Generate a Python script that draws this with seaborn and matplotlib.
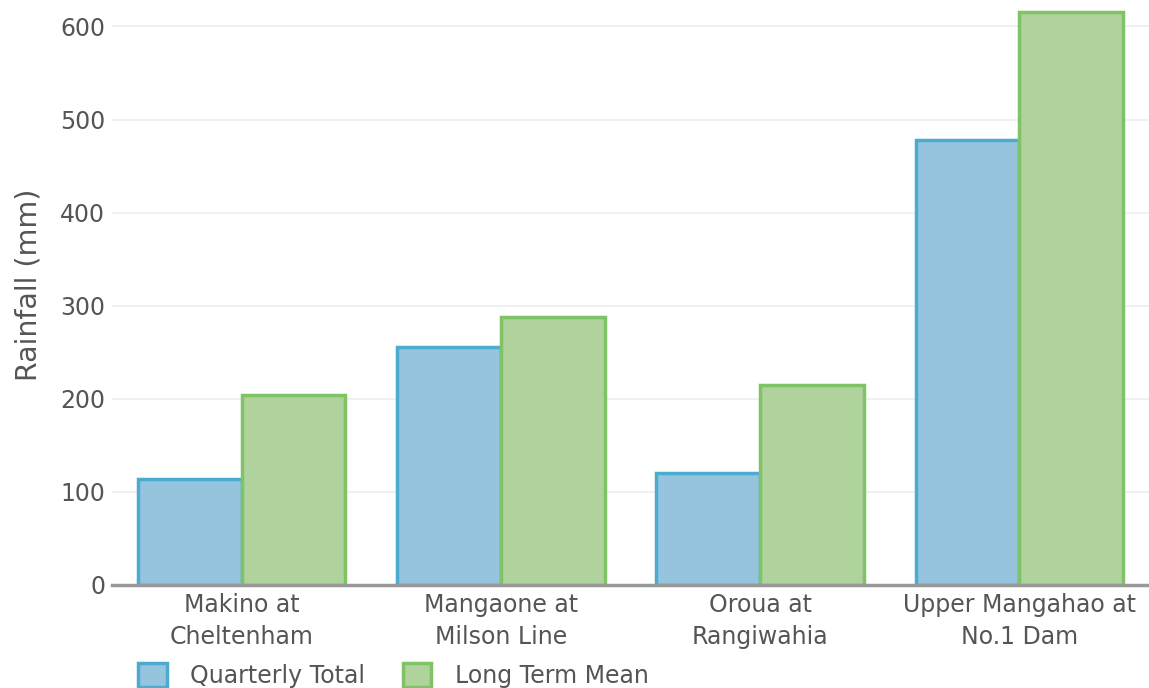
import matplotlib
matplotlib.use("Agg")
import matplotlib.pyplot as plt
import seaborn as sns
import pandas as pd
from matplotlib.patches import Patch

categories = ["Makino at\nCheltenham", "Mangaone at\nMilson Line", "Oroua at\nRangiwahia", "Upper Mangahao at\nNo.1 Dam"]
quarterly_total = [114, 256, 120, 478]
long_term_mean = [204, 288, 215, 615]
series_names = ["Quarterly Total", "Long Term Mean"]
y_ticks = [0, 100, 200, 300, 400, 500, 600]

fills = ["#96C4DE", "#B0D29D"]
edges = ["#4BACD0", "#80C266"]

df = pd.DataFrame({
    "Station": categories * 2,
    "Series": [series_names[0]] * 4 + [series_names[1]] * 4,
    "Rainfall": quarterly_total + long_term_mean,
})

sns.set_theme(style="white")
plt.rcParams['font.family'] = ['DejaVu Sans']

fig = plt.figure(figsize=(11.49, 6.88), dpi=100)
ax = fig.add_axes([112/1149, 103/688, 1037/1149, 580/688])

sns.barplot(data=df, x="Station", y="Rainfall", hue="Series", order=categories,
            hue_order=series_names, palette=fills, width=0.8, ax=ax, legend=False,
            saturation=1)
for cont, ec in zip(ax.containers, edges):
    for p in cont:
        p.set_edgecolor(ec)
        p.set_linewidth(2.5)

ax.set_xlim(-0.5, 3.5)
ax.set_ylim(0, 623)
ax.set_yticks(y_ticks)
ax.yaxis.grid(True, color="#EEEEEE", linewidth=1.2)
ax.set_axisbelow(True)
for s in ["top", "right", "left"]:
    ax.spines[s].set_visible(False)
ax.spines["bottom"].set_color("#999999")
ax.spines["bottom"].set_linewidth(2.5)
ax.spines["bottom"].set_zorder(5)
ax.tick_params(axis="both", length=0, labelsize=17, labelcolor="#555555")
ax.tick_params(axis="y", pad=5)
ax.tick_params(axis="x", pad=6)
ax.set_xlabel("")
ax.set_ylabel("Rainfall (mm)", fontsize=20.5, color="#555555")
ax.yaxis.set_label_coords(-0.0675, 0.517)
for lbl in ax.get_xticklabels():
    lbl.set_linespacing(1.38)

handles = [Patch(facecolor=f, edgecolor=e, linewidth=2.5) for f, e in zip(fills, edges)]
fig.legend(handles, series_names, loc="lower left", bbox_to_anchor=(117/1149, -21/688),
           ncol=2, frameon=False, fontsize=17, labelcolor="#555555",
           handlelength=1.2, handleheight=1.2, handletextpad=1.0, columnspacing=1.6)

fig.savefig("out.png", dpi=100)
